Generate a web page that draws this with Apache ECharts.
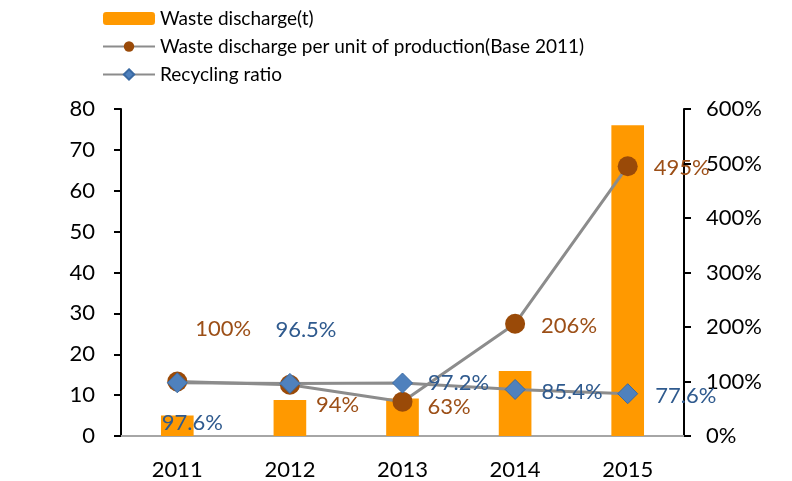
<!DOCTYPE html>
<html>
<head>
<meta charset="utf-8">
<script src="https://cdn.jsdelivr.net/npm/echarts@6/dist/echarts.min.js"></script>
<style>
  html, body { margin: 0; padding: 0; background: #fff; }
  #main { width: 792px; height: 481px; }
</style>
</head>
<body>
<div id="main"></div>
<script>
// data
const years = ['2011', '2012', '2013', '2014', '2015']
const discharge = [5, 8.8, 9.2, 15.9, 76]
const perUnit = [100, 94, 63, 206, 495]
const recycling = [97.6, 96.5, 97.2, 85.4, 77.6]
const leftTicks = [0, 80, 10]
const rightTicks = [0, 600, 100]

// label placement (pixels, relative to marker)
const perUnitLabelOffset = [[8, -53], [16, 20], [15, 5], [16, 2], [16, 2]]
const recyclingLabelOffset = [[-26, 40], [-25, -54], [15, 0], [16, 2], [17, 2]]

const font = 'Lato, "Open Sans", sans-serif'

const myChart = echarts.init(document.getElementById('main'), null, { renderer: 'canvas' })

const withLabels = (vals, offsets, color) => vals.map((v, i) => ({
  value: v,
  label: {
    show: true,
    position: 'right',
    distance: 0,
    offset: offsets[i],
    formatter: v + '%',
    color: color,
    fontSize: 22,
    fontFamily: font
  }
}))

myChart.setOption({
  animation: false,
  legend: {
    orient: 'vertical',
    left: 102,
    top: 9,
    padding: 0,
    itemWidth: 52,
    itemHeight: 13,
    itemGap: 9,
    textStyle: { fontSize: 19, fontFamily: font, color: '#000' },
    data: ['Waste discharge(t)', 'Waste discharge per unit of production(Base 2011)', 'Recycling ratio']
  },
  grid: { left: 121, right: 108, top: 109, bottom: 44 },
  xAxis: {
    type: 'category',
    data: years,
    axisLine: { lineStyle: { color: '#a6a6a6', width: 2 } },
    axisTick: { show: false },
    axisLabel: { fontSize: 22, fontFamily: font, color: '#000', margin: 23 }
  },
  yAxis: [
    {
      type: 'value',
      min: leftTicks[0], max: leftTicks[1], interval: leftTicks[2],
      axisLine: { show: true, lineStyle: { color: '#000', width: 2 } },
      axisTick: { show: true, length: 7, lineStyle: { color: '#000', width: 2 } },
      splitLine: { show: false },
      axisLabel: { fontSize: 22, fontFamily: font, color: '#000', margin: 26 }
    },
    {
      type: 'value',
      min: rightTicks[0], max: rightTicks[1], interval: rightTicks[2],
      position: 'right',
      axisLine: { show: true, lineStyle: { color: '#000', width: 2 } },
      axisTick: { show: true, length: 7, lineStyle: { color: '#000', width: 2 } },
      splitLine: { show: false },
      axisLabel: { fontSize: 22, fontFamily: font, color: '#000', margin: 22, formatter: '{value}%' }
    }
  ],
  series: [
    {
      name: 'Waste discharge(t)',
      type: 'bar',
      data: discharge,
      barWidth: '29%',
      itemStyle: { color: '#ff9900' }
    },
    {
      name: 'Waste discharge per unit of production(Base 2011)',
      type: 'line',
      yAxisIndex: 1,
      data: withLabels(perUnit, perUnitLabelOffset, '#9c4f17'),
      symbol: 'circle',
      symbolSize: 20,
      lineStyle: { color: '#8c8c8c', width: 3 },
      itemStyle: { color: '#9a4a08' },
      z: 3
    },
    {
      name: 'Recycling ratio',
      type: 'line',
      yAxisIndex: 1,
      data: withLabels(recycling, recyclingLabelOffset, '#2f5a8e'),
      symbol: 'diamond',
      symbolSize: 20,
      lineStyle: { color: '#8c8c8c', width: 3 },
      itemStyle: { color: '#4f81bd', borderColor: '#3a6aa3', borderWidth: 1 },
      z: 4
    }
  ]
})
</script>
</body>
</html>
